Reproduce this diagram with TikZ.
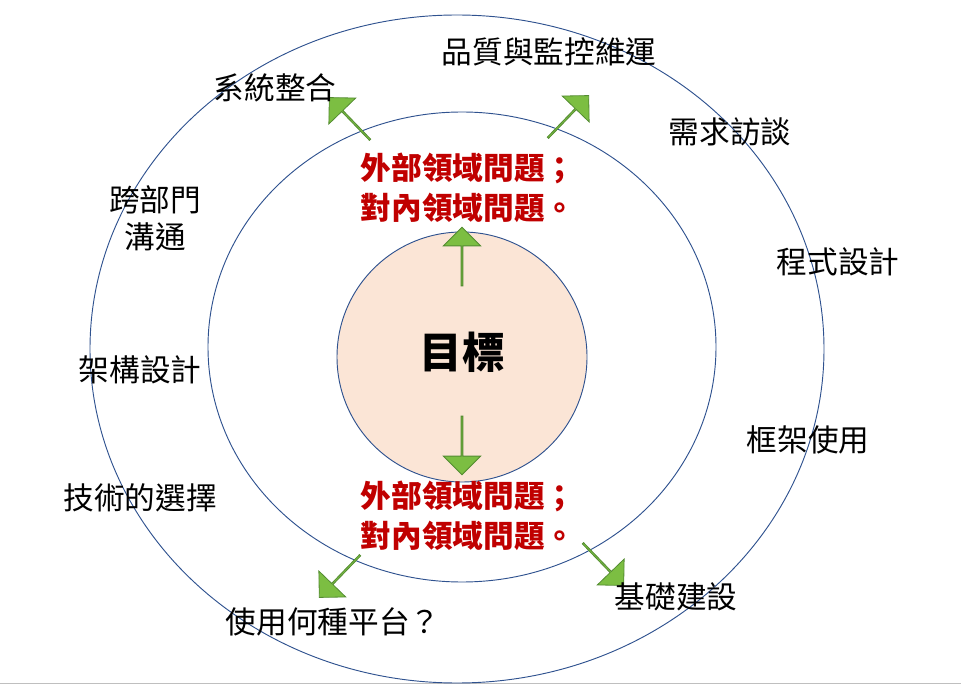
\documentclass[tikz,border=0pt]{standalone}
\usepackage{fontspec}
\setmainfont{Noto Sans CJK TC}
\usetikzlibrary{shapes.arrows}
\definecolor{ring}{RGB}{47,82,143}
\definecolor{core}{RGB}{251,229,214}
\definecolor{agreen}{RGB}{124,190,66}
\definecolor{adark}{RGB}{84,140,50}
\definecolor{dred}{RGB}{192,0,0}
\tikzset{
 garrow/.style={single arrow, fill=agreen, draw=adark, line width=0.6pt, minimum height=44pt, minimum width=28pt, single arrow head extend=6pt, single arrow head indent=0pt, inner sep=0pt, anchor=center},
 lbl/.style={font=\fontsize{23}{28}\selectfont, align=center, inner sep=0pt},
 red/.style={font=\fontsize{23}{30}\selectfont\bfseries, text=dred, align=left, inner sep=0pt}
}
\begin{document}
\begin{tikzpicture}[x=0.75pt,y=-0.75pt]
\useasboundingbox (0,0) rectangle (961,684);
\draw[gray!50] (0,683) -- (961,683);
\draw[ring, line width=0.7pt] (457,349) ellipse [x radius=367, y radius=334];
\draw[ring, line width=0.7pt] (462,347) ellipse [x radius=254, y radius=235];
\node[circle, fill=core, draw=ring, line width=0.7pt, minimum size=187.5pt, inner sep=0pt] (goal) at (462,357) {};
\node[font=\fontsize{32}{36}\selectfont\bfseries] (goalt) at (462,352) {目標};
\node[garrow, rotate=90] (au) at (462,257) {};
\node[garrow, rotate=-90] (ad) at (462,445) {};
\node[garrow, rotate=134] (aul) at (350,119) {};
\node[garrow, rotate=46] (aur) at (568,117) {};
\node[garrow, rotate=226] (all) at (340,576) {};
\node[garrow, rotate=-46] (alr) at (603,564) {};
\node[red] (r1) at (468,188) {外部領域問題；\\對內領域問題。};
\node[red] (r2) at (468,516) {外部領域問題；\\對內領域問題。};
\node[lbl] (t1) at (275,88) {系統整合};
\node[lbl] (t2) at (549,52) {品質與監控維運};
\node[lbl] (t3) at (730,132) {需求訪談};
\node[lbl] (t4) at (155,218) {跨部門\\溝通};
\node[lbl] (t5) at (838,262) {程式設計};
\node[lbl] (t6) at (140,370) {架構設計};
\node[lbl] (t7) at (808,440) {框架使用};
\node[lbl] (t8) at (140,498) {技術的選擇};
\node[lbl] (t9) at (333,622) {使用何種平台？};
\node[lbl] (t10) at (676,597) {基礎建設};
\end{tikzpicture}
\end{document}
